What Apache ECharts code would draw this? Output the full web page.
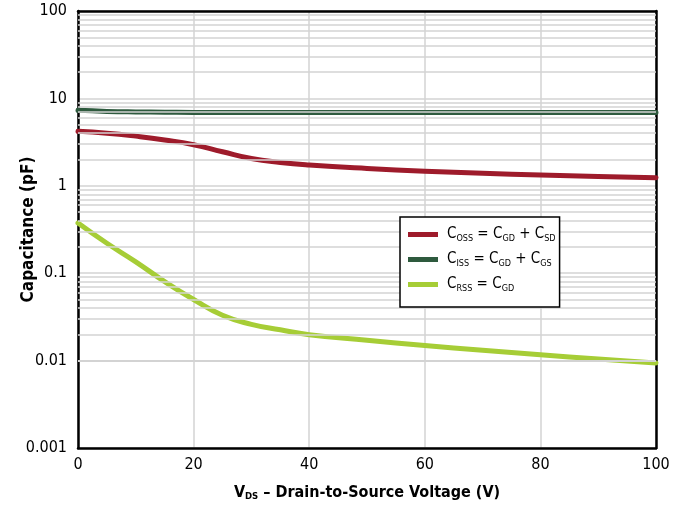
<!DOCTYPE html>
<html>
<head>
<meta charset="utf-8">
<script src="https://cdn.jsdelivr.net/npm/echarts@6/dist/echarts.min.js"></script>
<style>html,body{margin:0;padding:0;background:#fff;}#c{width:678px;height:509px;}</style>
</head>
<body>
<div id="c"></div>
<script>
const vds = [0, 5, 10, 15, 20, 25, 30, 35, 40, 50, 60, 70, 80, 90, 100];
const coss = [4.2, 4.0, 3.7, 3.35, 2.95, 2.45, 2.05, 1.85, 1.73, 1.58, 1.47, 1.39, 1.33, 1.28, 1.24];
const ciss = [7.3, 7.1, 7.0, 6.95, 6.9, 6.9, 6.9, 6.9, 6.9, 6.9, 6.9, 6.9, 6.9, 6.9, 6.9];
const crss = [0.375, 0.22, 0.135, 0.08, 0.05, 0.033, 0.026, 0.0225, 0.0198, 0.0171, 0.0149, 0.0131, 0.0117, 0.0104, 0.0094];
const yTicks = [0.001, 0.01, 0.1, 1, 10, 100];
const xTicks = [0, 20, 40, 60, 80, 100];
const minorGrid = [];
for (let d = 0; d < yTicks.length - 1; d++) {
  for (let m = 2; m <= 9; m++) minorGrid.push(+(yTicks[d] * m).toPrecision(3));
}
const FONT = "'DejaVu Sans Condensed', 'DejaVu Sans', sans-serif";
const NW = 'condensed';
const BW = 'bold condensed';
const legendText = {
  Coss: '{f|C}{s|OSS}{n| = C}{s|GD}{n| + C}{s|SD}',
  Ciss: '{f|C}{s|ISS}{n| = C}{s|GD}{n| + C}{s|GS}',
  Crss: '{f|C}{s|RSS}{n| = C}{s|GD}'
};
const pair = arr => vds.map((x, i) => [x, arr[i]]);
const chart = echarts.init(document.getElementById('c'));
const nStyle = { fontSize: 15, fontFamily: FONT, fontWeight: NW, color: '#000', lineHeight: 20, verticalAlign: 'middle' };
const lineSeries = (name, arr, color) => ({
  name, type: 'line', data: pair(arr), smooth: 0.5, showSymbol: false, z: 3,
  lineStyle: { color, width: 5, cap: 'round', join: 'round' }, itemStyle: { color }
});
chart.setOption({
  animation: false,
  textStyle: { fontFamily: FONT, fontWeight: NW },
  grid: { left: 78, right: 22, top: 11, bottom: 61, show: false, outerBoundsMode: 'none', containLabel: false },
  legend: {
    orient: 'vertical', left: 400, top: 217, z: 20,
    padding: [9, 4, 14, 8],
    backgroundColor: '#fff', borderColor: '#000', borderWidth: 1.5, borderRadius: 0,
    itemWidth: 30, itemHeight: 5, itemGap: 8, icon: 'rect',
    data: ['Coss', 'Ciss', 'Crss'],
    formatter: n => legendText[n],
    inactiveColor: '#000',
    textStyle: {
      fontFamily: FONT, fontWeight: NW, color: '#000',
      rich: {
        f: Object.assign({}, nStyle, { padding: [0, 0, 0, 4] }),
        n: nStyle,
        s: { fontSize: 9, fontFamily: FONT, fontWeight: NW, color: '#000', lineHeight: 20, padding: [8, 0, 0, 0], verticalAlign: 'middle' }
      }
    }
  },
  xAxis: [{
    type: 'value', min: 0, max: 100, interval: 20,
    axisLine: { show: true, onZero: false, lineStyle: { color: '#000', width: 2.5 } },
    axisTick: { show: false },
    axisLabel: { color: '#000', fontSize: 16, fontFamily: FONT, fontWeight: NW, margin: 9 },
    splitLine: { show: true, lineStyle: { color: '#d3d3d3', width: 1.5 } },
    name: '{b|V}{bs|DS}{b| – Drain-to-Source Voltage (V)}',
    nameLocation: 'middle', nameGap: 36, nameMoveOverlap: false,
    nameTextStyle: {
      rich: {
        b: { fontSize: 16, fontWeight: BW, fontFamily: FONT, color: '#000' },
        bs: { fontSize: 9.5, fontWeight: BW, fontFamily: FONT, color: '#000', padding: [8, 0, 0, 0] }
      }
    }
  }, {
    type: 'value', position: 'top', min: 0, max: 100, interval: 20,
    axisLine: { show: true, onZero: false, lineStyle: { color: '#000', width: 2.5 } },
    axisTick: { show: false }, axisLabel: { show: false }, splitLine: { show: false }
  }],
  yAxis: [{
    type: 'log', logBase: 10, min: 0.001, max: 100,
    axisLine: { show: true, onZero: false, lineStyle: { color: '#000', width: 2.5 } },
    axisTick: { show: false },
    axisLabel: { color: '#000', fontSize: 16, fontFamily: FONT, fontWeight: NW, margin: 11, formatter: v => String(+v.toPrecision(3)) },
    splitLine: { show: true, lineStyle: { color: '#d3d3d3', width: 1.5 } },
    name: 'Capacitance (pF)', nameLocation: 'middle', nameGap: 41, nameMoveOverlap: false,
    nameTextStyle: { fontSize: 17, fontWeight: BW, fontFamily: FONT, color: '#000' }
  }, {
    type: 'value', position: 'right', min: 0, max: 1,
    axisLine: { show: true, onZero: false, lineStyle: { color: '#000', width: 2.5 } },
    axisTick: { show: false }, axisLabel: { show: false }, splitLine: { show: false }
  }],
  series: [
    {
      name: 'grid', type: 'line', data: [], z: 1, silent: true,
      markLine: {
        silent: true, symbol: 'none', animation: false,
        label: { show: false },
        lineStyle: { color: '#d3d3d3', width: 1.5, type: 'solid' },
        data: minorGrid.map(v => ({ yAxis: v }))
      }
    },
    lineSeries('Coss', coss, '#9e1b2b'),
    lineSeries('Ciss', ciss, '#2e5a3e'),
    lineSeries('Crss', crss, '#a6cd36')
  ]
});
</script>
</body>
</html>
